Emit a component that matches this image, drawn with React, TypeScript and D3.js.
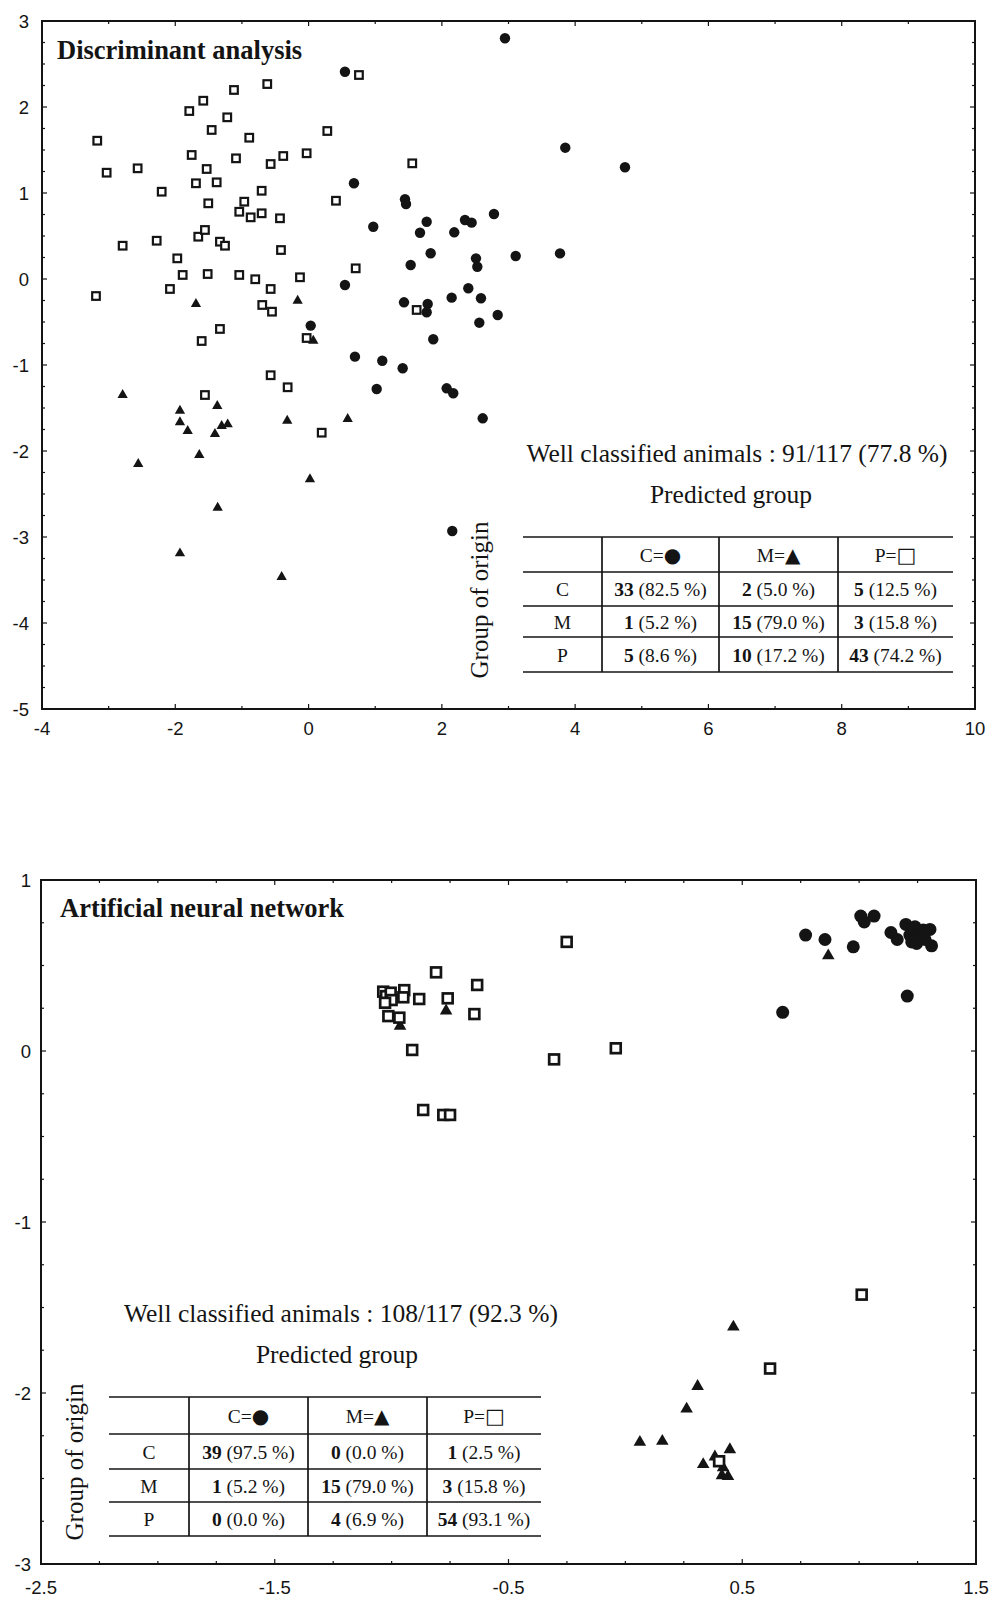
import React from 'react';
import * as d3 from 'd3';

// ---------- Discriminant analysis (top panel) ----------
const daCircles: [number, number][] = [
  [2.947, 2.799], [0.546, 2.41], [3.852, 1.527], [4.748, 1.299], [0.681, 1.113],
  [1.447, 0.927], [1.462, 0.872], [0.971, 0.608], [1.772, 0.666], [1.672, 0.538],
  [2.186, 0.543], [2.347, 0.686], [2.447, 0.655], [2.782, 0.756], [1.832, 0.299],
  [1.532, 0.163], [2.512, 0.24], [2.532, 0.143], [3.108, 0.267], [3.773, 0.298],
  [0.546, -0.07], [1.432, -0.271], [1.787, -0.291], [1.772, -0.387], [2.147, -0.217],
  [2.397, -0.108], [2.587, -0.224], [2.838, -0.419], [2.562, -0.508], [0.032, -0.542],
  [1.871, -0.701], [0.696, -0.903], [1.106, -0.95], [1.412, -1.038], [1.022, -1.279],
  [2.072, -1.271], [2.171, -1.329], [2.613, -1.62], [2.156, -2.93],
];
const daTriangles: [number, number][] = [
  [-1.69, -0.291], [-0.164, -0.252], [0.071, -0.717], [-2.79, -1.349], [-1.93, -1.531],
  [-1.93, -1.666], [-1.814, -1.767], [-1.37, -1.477], [-1.304, -1.709], [-1.214, -1.69],
  [-1.405, -1.802], [-1.64, -2.047], [-2.556, -2.151], [-1.364, -2.659], [-1.93, -3.19],
  [-0.404, -3.465], [0.021, -2.329], [-0.32, -1.648], [0.587, -1.628],
];
const daSquares: [number, number][] = [
  [0.756, 2.372], [-0.62, 2.267], [-1.119, 2.198], [-1.58, 2.073], [-1.79, 1.953],
  [-1.22, 1.88], [-1.454, 1.733], [-0.89, 1.643], [0.281, 1.721], [-3.171, 1.608],
  [-1.754, 1.442], [-1.089, 1.403], [-0.38, 1.43], [-0.029, 1.462], [-0.569, 1.337],
  [1.556, 1.345], [-3.03, 1.236], [-2.565, 1.287], [-1.529, 1.279], [-1.69, 1.113],
  [-1.379, 1.124], [-2.204, 1.015], [-0.704, 1.026], [-1.505, 0.88], [-0.965, 0.899],
  [0.411, 0.91], [-1.04, 0.782], [-0.869, 0.717], [-0.704, 0.764], [-0.429, 0.706],
  [-1.655, 0.492], [-1.555, 0.57], [-1.33, 0.434], [-1.254, 0.387], [-2.79, 0.387],
  [-2.279, 0.445], [-0.414, 0.337], [-1.97, 0.24], [-1.889, 0.047], [-1.514, 0.058],
  [-1.04, 0.047], [-0.8, -0.003], [-0.129, 0.02], [0.707, 0.124], [-3.19, -0.198],
  [-2.08, -0.116], [-0.569, -0.116], [-0.695, -0.302], [-0.549, -0.38], [1.622, -0.36],
  [-1.33, -0.581], [-1.604, -0.721], [-0.029, -0.686], [-0.569, -1.119], [-1.555, -1.349],
  [-0.314, -1.259], [0.197, -1.787],
];
const daXTicks = [-4, -2, 0, 2, 4, 6, 8, 10];
const daYTicks = [3, 2, 1, 0, -1, -2, -3, -4, -5];
const daCounts = [[33, 2, 5], [1, 15, 3], [5, 10, 43]];
const daPct = [['82.5', '5.0', '12.5'], ['5.2', '79.0', '15.8'], ['8.6', '17.2', '74.2']];
const daSummary = 'Well classified animals : 91/117 (77.8 %)';

// ---------- Artificial neural network (bottom panel) ----------
const annCircles: [number, number][] = [
  [0.771, 0.678], [0.854, 0.652], [0.975, 0.609], [1.007, 0.789], [1.064, 0.789],
  [1.022, 0.755], [1.136, 0.693], [1.163, 0.652], [1.2, 0.74], [1.239, 0.726],
  [1.274, 0.707], [1.303, 0.711], [1.217, 0.678], [1.243, 0.652], [1.268, 0.678],
  [1.225, 0.638], [1.246, 0.629], [1.31, 0.615], [1.282, 0.652], [1.206, 0.321],
  [0.673, 0.226],
];
const annTriangles: [number, number][] = [
  [0.868, 0.557], [-0.767, 0.235], [-0.964, 0.146],
  [0.462, -1.614], [0.309, -1.961], [0.262, -2.093], [0.062, -2.288], [0.158, -2.282],
  [0.447, -2.331], [0.383, -2.373], [0.333, -2.418], [0.418, -2.436], [0.413, -2.483],
  [0.439, -2.488],
];
const annSquares: [number, number][] = [
  [-0.251, 0.638], [-0.81, 0.46], [-0.634, 0.386], [-0.76, 0.308], [-0.646, 0.216],
  [-0.882, 0.304], [-0.946, 0.356], [-1.036, 0.347], [-1.024, 0.321], [-1.004, 0.341],
  [-1.0, 0.298], [-1.028, 0.282], [-0.95, 0.314], [-1.014, 0.204], [-0.967, 0.195],
  [-0.912, 0.006], [-0.305, -0.049], [-0.041, 0.016], [-0.865, -0.345], [-0.779, -0.374],
  [-0.75, -0.374], [1.011, -1.425], [0.619, -1.857], [0.401, -2.399],
];
const annXTicks = [-2.5, -1.5, -0.5, 0.5, 1.5];
const annYTicks = [1, 0, -1, -2, -3];
const annCounts = [[39, 0, 1], [1, 15, 3], [0, 4, 54]];
const annPct = [['97.5', '0.0', '2.5'], ['5.2', '79.0', '15.8'], ['0.0', '6.9', '93.1']];
const annSummary = 'Well classified animals : 108/117 (92.3 %)';

const rowLabels = ['C', 'M', 'P'];
const headerLabels = ['C=', 'M=', 'P='];
const headerGlyphs = ['●', '▲', '□'];

const INK = '#141414';
const SERIF = '"Liberation Serif", "Times New Roman", serif';
const SANS = '"Liberation Sans", Arial, sans-serif';

type Pt = [number, number];

interface PanelCfg {
  xDomain: [number, number];
  yDomain: [number, number];
  xRange: [number, number];
  yRange: [number, number]; // [bottom, top]
  xTicks: number[];
  yTicks: number[];
  xStep: number;
  yStep: number;
  circles: Pt[];
  triangles: Pt[];
  squares: Pt[];
  r: number;
  tri: number;
  sq: number;
  sqStroke: number;
  title: string;
  titleX: number;
  titleY: number;
  yLabelX: number;
  xLabelY: number;
  summary: string;
  summaryX: number;
  summaryY: number;
  predX: number;
  predY: number;
  originX: number;
  originY: number;
  cols: number[];
  rows: number[];
  counts: number[][];
  pcts: string[][];
  fmt: (v: number) => string;
}

function Panel({ c }: { c: PanelCfg }) {
  const x = d3.scaleLinear().domain(c.xDomain).range(c.xRange);
  const y = d3.scaleLinear().domain(c.yDomain).range(c.yRange);
  const [xl, xr] = c.xRange;
  const [yb, yt] = c.yRange;
  const triPath = d3.symbol().type(d3.symbolTriangle).size(c.tri)() as string;
  const xMinor = d3.range(c.xDomain[0], c.xDomain[1] + 1e-9, c.xStep);
  const yMinor = d3.range(c.yDomain[0], c.yDomain[1] + 1e-9, c.yStep);
  const isMajor = (v: number, arr: number[]) => arr.some((t) => Math.abs(t - v) < 1e-6);
  const cellFont = 19.5;
  return (
    <g>
      {/* frame */}
      <rect x={xl} y={yt} width={xr - xl} height={yb - yt} fill="none" stroke={INK} strokeWidth={2} />
      {/* ticks */}
      {xMinor.map((v, i) => {
        const L = isMajor(v, c.xTicks) ? 5 : 3;
        return (
          <g key={'xt' + i}>
            <line x1={x(v)} x2={x(v)} y1={yb} y2={yb - L} stroke={INK} strokeWidth={1.2} />
            <line x1={x(v)} x2={x(v)} y1={yt} y2={yt + L} stroke={INK} strokeWidth={1.2} />
          </g>
        );
      })}
      {yMinor.map((v, i) => {
        const L = isMajor(v, c.yTicks) ? 5 : 3;
        return (
          <g key={'yt' + i}>
            <line x1={xl} x2={xl + L} y1={y(v)} y2={y(v)} stroke={INK} strokeWidth={1.2} />
            <line x1={xr} x2={xr - L} y1={y(v)} y2={y(v)} stroke={INK} strokeWidth={1.2} />
          </g>
        );
      })}
      {/* tick labels */}
      {c.xTicks.map((v) => (
        <text key={'xl' + v} x={x(v)} y={c.xLabelY} textAnchor="middle" fontFamily={SANS} fontSize={18.5} fill={INK}>
          {c.fmt(v)}
        </text>
      ))}
      {c.yTicks.map((v) => (
        <text key={'yl' + v} x={c.yLabelX} y={y(v)} dy="0.36em" textAnchor="end" fontFamily={SANS} fontSize={18.5} fill={INK}>
          {c.fmt(v)}
        </text>
      ))}
      {/* title */}
      <text x={c.titleX} y={c.titleY} fontFamily={SERIF} fontWeight="bold" fontSize={26.5} fill={INK}>
        {c.title}
      </text>
      {/* markers */}
      {c.circles.map((p, i) => (
        <circle key={'c' + i} cx={x(p[0])} cy={y(p[1])} r={c.r} fill={INK} />
      ))}
      {c.triangles.map((p, i) => (
        <path key={'t' + i} d={triPath} transform={`translate(${x(p[0])},${y(p[1])})`} fill={INK} />
      ))}
      {c.squares.map((p, i) => (
        <rect
          key={'s' + i}
          x={x(p[0]) - c.sq / 2}
          y={y(p[1]) - c.sq / 2}
          width={c.sq}
          height={c.sq}
          fill="#fff"
          stroke={INK}
          strokeWidth={c.sqStroke}
        />
      ))}
      {/* classification table */}
      <text x={c.summaryX} y={c.summaryY} textAnchor="middle" fontFamily={SERIF} fontSize={25.5} fill={INK}>
        {c.summary}
      </text>
      <text x={c.predX} y={c.predY} textAnchor="middle" fontFamily={SERIF} fontSize={25.5} fill={INK}>
        Predicted group
      </text>
      <text
        transform={`translate(${c.originX},${c.originY}) rotate(-90)`}
        textAnchor="middle"
        fontFamily={SERIF}
        fontSize={25}
        fill={INK}
      >
        Group of origin
      </text>
      {c.rows.map((ry, i) => (
        <line key={'hr' + i} x1={c.cols[0]} x2={c.cols[4]} y1={ry} y2={ry} stroke={INK} strokeWidth={1.7} />
      ))}
      {[1, 2, 3].map((j) => (
        <line key={'vr' + j} x1={c.cols[j]} x2={c.cols[j]} y1={c.rows[0]} y2={c.rows[4]} stroke={INK} strokeWidth={1.7} />
      ))}
      {headerLabels.map((h, j) => {
        const cx = (c.cols[j + 1] + c.cols[j + 2]) / 2;
        const cy = (c.rows[0] + c.rows[1]) / 2 + 7;
        return (
          <text key={'hd' + j} x={cx} y={cy} textAnchor="middle" fontFamily={SERIF} fontSize={cellFont} fill={INK}>
            {h}
            <tspan fontFamily='"DejaVu Sans", sans-serif' fontSize={j === 2 ? 21 : 20}>
              {headerGlyphs[j]}
            </tspan>
          </text>
        );
      })}
      {rowLabels.map((lab, i) => {
        const cy = (c.rows[i + 1] + c.rows[i + 2]) / 2 + 7;
        return (
          <g key={'row' + i}>
            <text x={(c.cols[0] + c.cols[1]) / 2} y={cy} textAnchor="middle" fontFamily={SERIF} fontSize={cellFont} fill={INK}>
              {lab}
            </text>
            {c.counts[i].map((n, j) => (
              <text
                key={'cell' + j}
                x={(c.cols[j + 1] + c.cols[j + 2]) / 2}
                y={cy}
                textAnchor="middle"
                fontFamily={SERIF}
                fontSize={cellFont}
                fill={INK}
              >
                <tspan fontWeight="bold">{n}</tspan>
                {` (${c.pcts[i][j]} %)`}
              </text>
            ))}
          </g>
        );
      })}
    </g>
  );
}

const topCfg: PanelCfg = {
  xDomain: [-4, 10],
  yDomain: [-5, 3],
  xRange: [42, 975],
  yRange: [709, 21],
  xTicks: daXTicks,
  yTicks: daYTicks,
  xStep: 1,
  yStep: 0.25,
  circles: daCircles,
  triangles: daTriangles,
  squares: daSquares,
  r: 5.2,
  tri: 46,
  sq: 7.6,
  sqStroke: 2.2,
  title: 'Discriminant analysis',
  titleX: 57,
  titleY: 59,
  yLabelX: 29,
  xLabelY: 735,
  summary: daSummary,
  summaryX: 737,
  summaryY: 462,
  predX: 731,
  predY: 503,
  originX: 488,
  originY: 600,
  cols: [523, 602, 719, 838, 953],
  rows: [537, 572, 606, 637, 672],
  counts: daCounts,
  pcts: daPct,
  fmt: (v) => String(v),
};

const botCfg: PanelCfg = {
  xDomain: [-2.5, 1.5],
  yDomain: [-3, 1],
  xRange: [41, 976],
  yRange: [1564, 880],
  xTicks: annXTicks,
  yTicks: annYTicks,
  xStep: 0.25,
  yStep: 0.25,
  circles: annCircles,
  triangles: annTriangles,
  squares: annSquares,
  r: 6.5,
  tri: 68,
  sq: 9.8,
  sqStroke: 2.7,
  title: 'Artificial neural network',
  titleX: 60,
  titleY: 917,
  yLabelX: 31,
  xLabelY: 1594,
  summary: annSummary,
  summaryX: 341,
  summaryY: 1322,
  predX: 337,
  predY: 1363,
  originX: 83,
  originY: 1462,
  cols: [109, 189, 308, 427, 541],
  rows: [1397, 1434, 1469, 1502, 1536],
  counts: annCounts,
  pcts: annPct,
  fmt: (v) => String(v),
};

export default function App() {
  return (
    <svg
      width={991}
      height={1600}
      viewBox="0 0 991 1600"
      style={{ position: 'absolute', left: 0, top: 0, background: '#fff' }}
    >
      <rect x={0} y={0} width={991} height={1600} fill="#fff" />
      <Panel c={topCfg} />
      <Panel c={botCfg} />
    </svg>
  );
}
